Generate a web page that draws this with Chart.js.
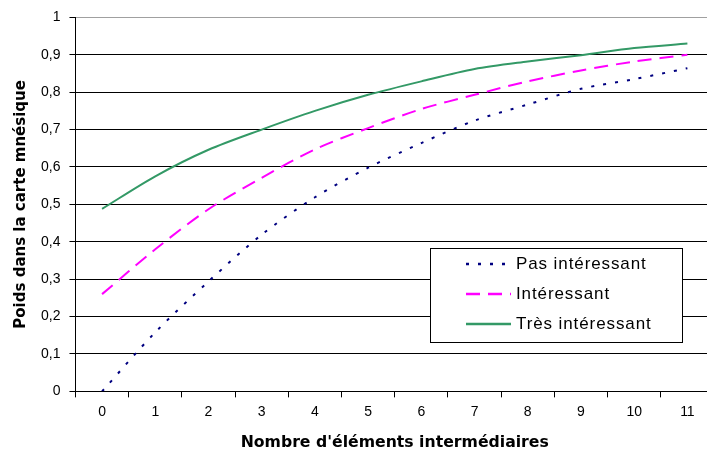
<!DOCTYPE html>
<html>
<head>
<meta charset="utf-8">
<script src="https://cdn.jsdelivr.net/npm/chart.js@4"></script>
<style>
  html, body { margin: 0; padding: 0; background: #fff; overflow: hidden; }
  #wrap { width: 714px; height: 454px; }
</style>
</head>
<body>
<div id="wrap"><canvas id="chart"></canvas></div>
<script>
// données
const categories = ['0', '1', '2', '3', '4', '5', '6', '7', '8', '9', '10', '11'];
const pasInteressant = [0, 0.158, 0.294, 0.419, 0.519, 0.598, 0.664, 0.724, 0.767, 0.809, 0.835, 0.864];
const interessant = [0.26, 0.38, 0.487, 0.571, 0.647, 0.704, 0.755, 0.793, 0.829, 0.858, 0.882, 0.90];
const tresInteressant = [0.488, 0.575, 0.646, 0.70, 0.75, 0.793, 0.829, 0.862, 0.882, 0.899, 0.918, 0.93];
const yTicks = [0, 0.1, 0.2, 0.3, 0.4, 0.5, 0.6, 0.7, 0.8, 0.9, 1];

const sans = '"Liberation Sans", Arial, sans-serif';
const titleFont = '"DejaVu Sans", Verdana, sans-serif';

// légende dessinée dans la zone du graphique
const boxLegend = {
    id: 'boxLegend',
    afterDraw(chart) {
        const ctx = chart.ctx;
        const x = 430, y = 248, w = 252, h = 94;
        ctx.save();
        ctx.fillStyle = '#fff';
        ctx.fillRect(x, y, w, h);
        ctx.strokeStyle = '#000';
        ctx.lineWidth = 1;
        ctx.strokeRect(x + 0.5, y + 0.5, w, h);
        ctx.font = '17px ' + sans;
        ctx.textBaseline = 'middle';
        if ('letterSpacing' in ctx) ctx.letterSpacing = '0.9px';
        chart.data.datasets.forEach((ds, i) => {
            const ly = y + 16 + i * 30;
            ctx.beginPath();
            ctx.setLineDash(ds.borderDash || []);
            ctx.strokeStyle = ds.borderColor;
            ctx.lineWidth = ds.borderWidth + 0.5;
            ctx.moveTo(466, ly);
            ctx.lineTo(511, ly);
            ctx.stroke();
            ctx.setLineDash([]);
            ctx.fillStyle = '#000';
            ctx.fillText(ds.label, 516, ly);
        });
        ctx.restore();
    }
};

new Chart(document.getElementById('chart'), {
    type: 'line',
    data: {
        labels: categories,
        datasets: [{
            label: 'Pas intéressant',
            data: pasInteressant,
            borderColor: '#000080',
            borderWidth: 2,
            borderDash: [3, 9],
            pointRadius: 0,
            tension: 0.3,
            fill: false
        }, {
            label: 'Intéressant',
            data: interessant,
            borderColor: '#FF00FF',
            borderWidth: 2,
            borderDash: [14, 8],
            pointRadius: 0,
            tension: 0.3,
            fill: false
        }, {
            label: 'Très intéressant',
            data: tresInteressant,
            borderColor: '#339966',
            borderWidth: 2,
            pointRadius: 0,
            tension: 0.3,
            fill: false
        }]
    },
    options: {
        responsive: true,
        maintainAspectRatio: false,
        animation: false,
        layout: {
            padding: { top: 15, right: 0, bottom: 2, left: 4 }
        },
        scales: {
            x: {
                offset: true,
                grid: {
                    offset: true,
                    drawOnChartArea: false,
                    drawTicks: true,
                    tickLength: 6,
                    tickColor: '#000'
                },
                border: { color: '#000', width: 1 },
                ticks: {
                    color: '#000',
                    padding: 6,
                    font: { family: sans, size: 14 }
                },
                title: {
                    display: true,
                    text: "Nombre d'éléments intermédiaires",
                    color: '#000',
                    padding: { top: 7, bottom: 0 },
                    font: { family: titleFont, size: 15.7, weight: 'bold' }
                }
            },
            y: {
                min: 0,
                max: 1,
                afterBuildTicks: axis => {
                    axis.ticks = yTicks.map(v => ({ value: v }));
                },
                grid: {
                    color: ctx => (ctx.tick && ctx.tick.value === 1) ? '#a0a0a0' : '#000',
                    tickColor: '#000',
                    tickLength: 6,
                    lineWidth: 1
                },
                border: { color: '#000', width: 1 },
                ticks: {
                    color: '#000',
                    padding: 9,
                    font: { family: sans, size: 14 },
                    callback: v => String(Math.round(v * 10) / 10).replace('.', ',')
                },
                title: {
                    display: true,
                    text: 'Poids dans la carte mnésique',
                    color: '#000',
                    padding: { top: 8, bottom: 2 },
                    font: { family: titleFont, size: 15, weight: 'bold' }
                }
            }
        },
        plugins: {
            legend: { display: false },
            tooltip: { enabled: false }
        }
    },
    plugins: [boxLegend]
});
</script>
</body>
</html>
